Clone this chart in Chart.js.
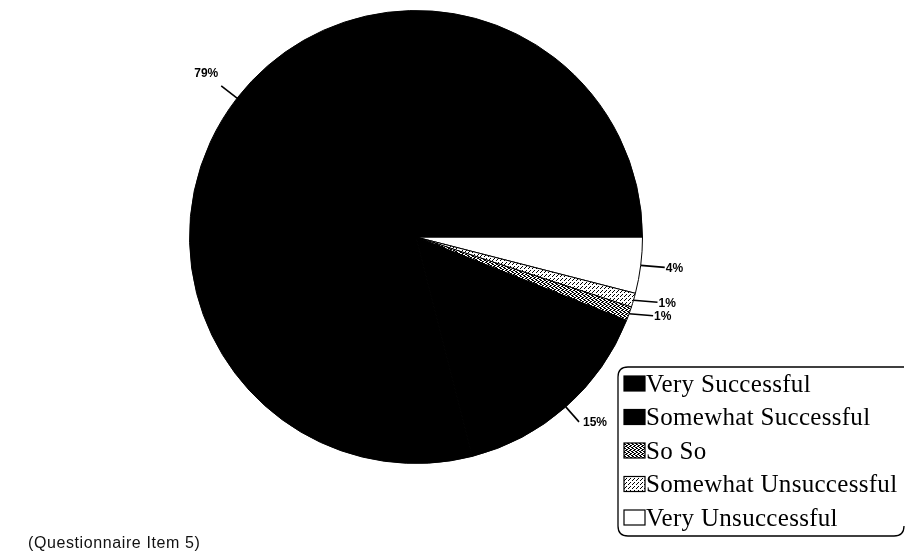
<!DOCTYPE html>
<html>
<head>
<meta charset="utf-8">
<script src="https://cdn.jsdelivr.net/npm/chart.js@4/dist/chart.umd.min.js"></script>
<style>
  html, body { margin: 0; padding: 0; background: #fff; }
  #wrap { position: relative; width: 906px; height: 556px; }
  #caption { position: absolute; left: 28px; top: 534px; font: 16px "Liberation Sans", sans-serif; color: #111; letter-spacing: 0.6px; }
</style>
</head>
<body>
<div id="wrap">
  <canvas id="pie" width="906" height="556"></canvas>
  <div id="caption">(Questionnaire Item 5)</div>
</div>
<script>
// Data (legend order)
var categories = ['Very Successful', 'Somewhat Successful', 'So So', 'Somewhat Unsuccessful', 'Very Unsuccessful'];
var percents = [79, 15, 1, 1, 4];
var percentLabels = ['79%', '15%', '1%', '1%', '4%'];

// hatch fills
function makePattern(dense) {
  var c = document.createElement('canvas');
  c.width = 4; c.height = 4;
  var g = c.getContext('2d');
  g.fillStyle = '#fff';
  g.fillRect(0, 0, 4, 4);
  g.fillStyle = '#000';
  if (dense) {
    g.fillRect(0, 0, 2, 1); g.fillRect(2, 1, 2, 1); g.fillRect(1, 2, 2, 1); g.fillRect(3, 3, 1, 1); g.fillRect(0, 3, 1, 1);
  } else {
    g.fillRect(0, 0, 1, 1); g.fillRect(2, 2, 1, 1); g.fillRect(1, 3, 1, 1);
  }
  return g.createPattern(c, 'repeat');
}
var fills = ['#000', '#000', makePattern(true), makePattern(false), '#fff'];

// pie is drawn clockwise from 3 o'clock, reference runs the other way -> reverse
var order = [4, 3, 2, 1, 0];

var labelPlugin = {
  id: 'pctLabels',
  afterDatasetsDraw: function(chart) {
    var ctx = chart.ctx;
    var arcs = chart.getDatasetMeta(0).data;
    ctx.save();
    ctx.strokeStyle = '#000';
    ctx.fillStyle = '#000';
    ctx.lineWidth = 1.6;
    ctx.font = 'bold 12px "Liberation Sans", sans-serif';
    ctx.textBaseline = 'middle';
    arcs.forEach(function(arc, i) {
      var idx = order[i];
      var mid = (arc.startAngle + arc.endAngle) / 2;
      var r = arc.outerRadius;
      var sx = arc.x + Math.cos(mid) * r;
      var sy = arc.y + Math.sin(mid) * r;
      var ex, ey;
      if (percents[idx] >= 10) {
        ex = arc.x + Math.cos(mid) * (r + 20);
        ey = arc.y + Math.sin(mid) * (r + 20);
      } else {
        ex = sx + 24;
        ey = sy + 2;
      }
      ctx.beginPath();
      ctx.moveTo(sx, sy);
      ctx.lineTo(ex, ey);
      ctx.stroke();
      if (Math.cos(mid) < 0) {
        ctx.textAlign = 'right';
        ctx.fillText(percentLabels[idx], ex - 3, ey - 12);
      } else if (percents[idx] >= 10) {
        ctx.textAlign = 'left';
        ctx.fillText(percentLabels[idx], ex + 4, ey + 1);
      } else {
        ctx.textAlign = 'left';
        ctx.fillText(percentLabels[idx], ex + 1, ey + 1);
      }
    });
    ctx.restore();
  }
};

var legendPlugin = {
  id: 'boxLegend',
  afterDraw: function(chart) {
    var ctx = chart.ctx;
    var x0 = 618, y0 = 367, x1 = 904, y1 = 536, rr = 10;
    ctx.save();
    ctx.strokeStyle = '#000';
    ctx.lineWidth = 1.3;
    ctx.beginPath();
    ctx.moveTo(x1, y0);
    ctx.lineTo(x0 + rr, y0);
    ctx.quadraticCurveTo(x0, y0, x0, y0 + rr);
    ctx.lineTo(x0, y1 - rr);
    ctx.quadraticCurveTo(x0, y1, x0 + rr, y1);
    ctx.lineTo(x1 - rr, y1);
    ctx.quadraticCurveTo(x1, y1, x1, y1 - rr);
    ctx.stroke();
    ctx.font = '25px "Liberation Serif", serif';
    ctx.letterSpacing = '0.3px';
    ctx.textBaseline = 'middle';
    ctx.textAlign = 'left';
    categories.forEach(function(name, i) {
      var y = y0 + 17 + i * 33.5;
      ctx.fillStyle = fills[i];
      ctx.fillRect(624, y - 8, 21, 15);
      ctx.lineWidth = 1.2;
      ctx.strokeRect(624, y - 8, 21, 15);
      ctx.fillStyle = '#000';
      ctx.fillText(name, 646, y + 1);
    });
    ctx.restore();
  }
};

new Chart(document.getElementById('pie'), {
  type: 'pie',
  data: {
    labels: order.map(function(i) { return categories[i]; }),
    datasets: [{
      data: order.map(function(i) { return percents[i]; }),
      backgroundColor: order.map(function(i) { return fills[i]; }),
      borderColor: '#000',
      borderWidth: 1,
      hoverOffset: 0
    }]
  },
  options: {
    responsive: false,
    animation: false,
    rotation: 90,
    layout: { padding: { left: 188, right: 262, top: 10, bottom: 92 } },
    plugins: {
      legend: { display: false },
      tooltip: { enabled: false }
    }
  },
  plugins: [labelPlugin, legendPlugin]
});
</script>
</body>
</html>
